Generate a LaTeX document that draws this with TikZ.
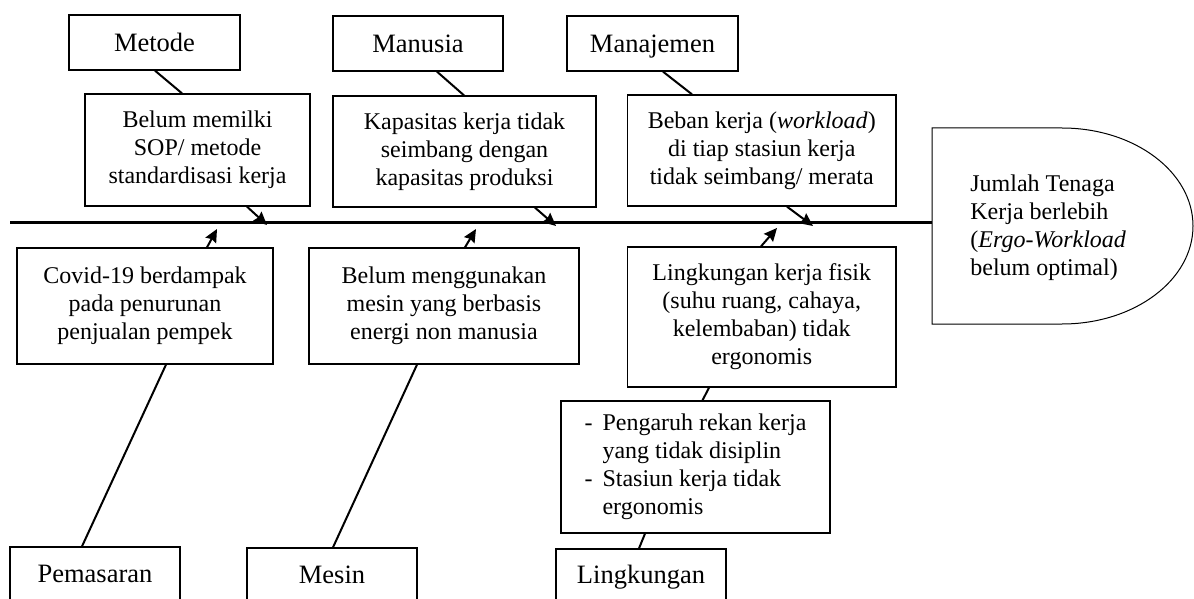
\documentclass[tikz,border=0pt]{standalone}
\usepackage{fontspec}
\setmainfont{Liberation Serif}
\usetikzlibrary{arrows.meta}
\begin{document}
\begin{tikzpicture}[x=0.5pt,y=-0.5pt,
  box/.style={draw, line width=0.65pt, inner sep=0pt, align=center},
  body/.style={font=\fontsize{12}{14}\selectfont},
  cat/.style={font=\fontsize{13.25}{15}\selectfont, text height=8.8pt, text depth=0pt},
  link/.style={line width=1pt},
  arr/.style={line width=1pt, -{Stealth[length=6.5pt,width=6pt,inset=0.8pt]}},
  spine/.style={line width=1.5pt}]
\useasboundingbox (0,0) rectangle (1194,599);
% category boxes
\node[box,cat,minimum width=85.5pt,minimum height=27.5pt] (metode) at (154.5,42.5) {Metode};
\node[box,cat,minimum width=85pt,minimum height=27.5pt] (manusia) at (418,43.5) {Manusia};
\node[box,cat,minimum width=85.5pt,minimum height=27.5pt] (manajemen) at (652.5,43.5) {Manajemen};
\node[box,cat,minimum width=85pt,minimum height=27pt] (pemasaran) at (95,574) {Pemasaran};
\node[box,cat,minimum width=85pt,minimum height=26.5pt] (mesin) at (332,574.5) {Mesin};
\node[box,cat,minimum width=85pt,minimum height=26pt] (lingkungan) at (641,575) {Lingkungan};
% cause boxes
\node[box,body,minimum width=112.5pt,minimum height=56pt] (c1) at (197.5,150) {Belum memilki\\SOP/ metode\\standardisasi kerja};
\node[box,body,minimum width=131.5pt,minimum height=55.5pt] (c2) at (464.5,151.5) {Kapasitas kerja tidak\\seimbang dengan\\kapasitas produksi};
\node[box,body,minimum width=134.25pt,minimum height=55.5pt] (c3) at (761.75,150.5) {Beban kerja (\textit{workload})\\di tiap stasiun kerja\\tidak seimbang/ merata};
\node[box,body,minimum width=128pt,minimum height=58pt] (c4) at (145,306) {Covid-19 berdampak\\pada penurunan\\penjualan pempek};
\node[box,body,minimum width=135pt,minimum height=58pt] (c5) at (444,306) {Belum menggunakan\\mesin yang berbasis\\energi non manusia};
\node[box,body,minimum width=134.25pt,minimum height=70pt] (c6) at (761.75,317) {Lingkungan kerja fisik\\(suhu ruang, cahaya,\\kelembaban) tidak\\ergonomis};
\node[box,body,minimum width=134.5pt,minimum height=66pt] (c7) at (695.5,467) {\begin{tabular}{@{}l@{\hspace{5pt}}l@{}}-&Pengaruh rekan kerja\\&yang tidak disiplin\\-&Stasiun kerja tidak\\&ergonomis\end{tabular}};
% head
\draw[line width=0.5pt] (932,128) -- (1062,128) arc[start angle=90,end angle=-90,x radius=65.5pt,y radius=49pt] -- (932,324) -- cycle;
\node[body, anchor=west, align=left, inner sep=0pt] (head) at (970,228) {Jumlah Tenaga\\Kerja berlebih\\(\textit{Ergo-Workload}\\belum optimal)};
% spine
\coordinate (sp0) at (10,222);
\coordinate (spE) at (932,222);
\draw[spine] (sp0) -- (spE);
\coordinate (a1) at (267,225);
\coordinate (a2) at (556,226);
\coordinate (a3) at (813,226);
\coordinate (a4) at (217,229);
\coordinate (a5) at (476,229);
\coordinate (a6) at (777,228);
% arrows
\draw[arr] (247,0 |- c1.south) -- (a1);
\draw[arr] (535,0 |- c2.south) -- (a2);
\draw[arr] (787,0 |- c3.south) -- (a3);
\draw[arr] (207,0 |- c4.north) -- (a4);
\draw[arr] (465,0 |- c5.north) -- (a5);
\draw[arr] (761,0 |- c6.north) -- (a6);
% links
\draw[link] (155,0 |- metode.south) -- (182,0 |- c1.north);
\draw[link] (437,0 |- manusia.south) -- (464,0 |- c2.north);
\draw[link] (663,0 |- manajemen.south) -- (692,0 |- c3.north);
\draw[link] (166,0 |- c4.south) -- (82,0 |- pemasaran.north);
\draw[link] (417,0 |- c5.south) -- (333,0 |- mesin.north);
\draw[link] (709,0 |- c6.south) -- (702.5,0 |- c7.north);
\draw[link] (645,0 |- c7.south) -- (639,0 |- lingkungan.north);
\end{tikzpicture}
\end{document}
